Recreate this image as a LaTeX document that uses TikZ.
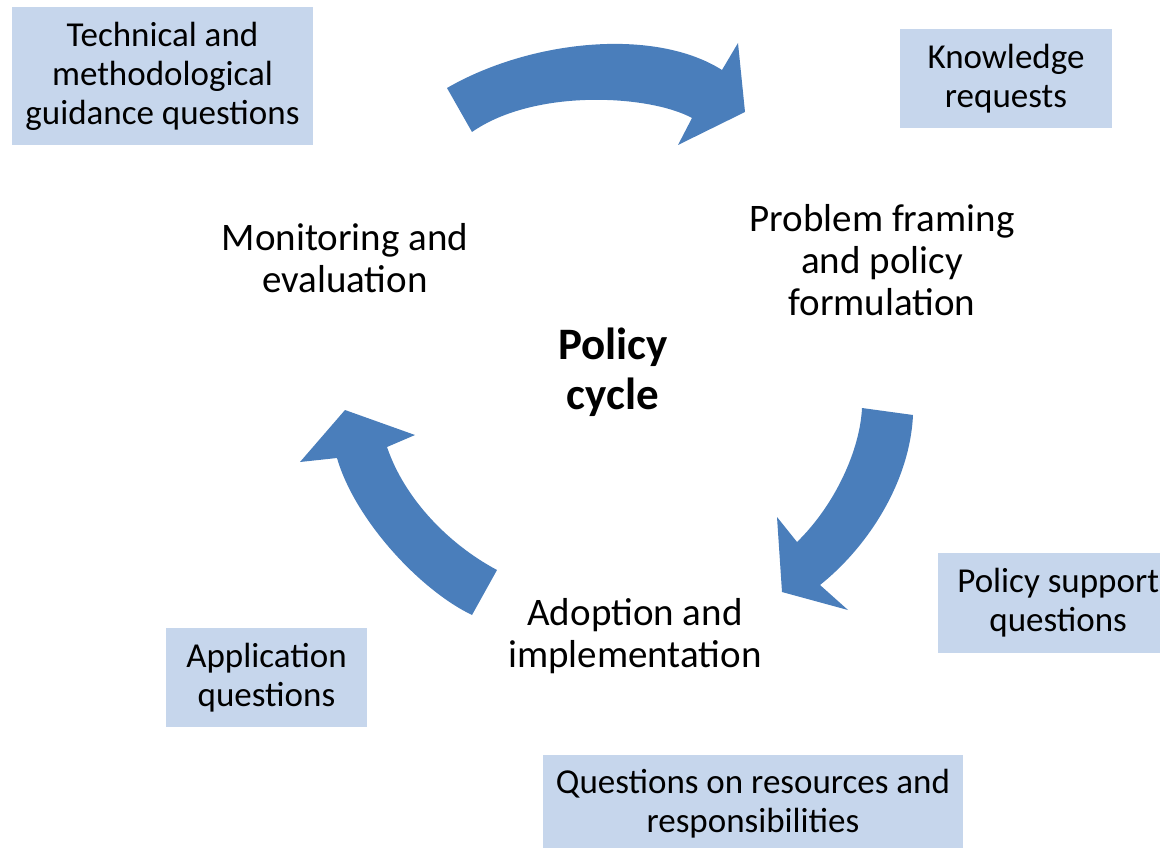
\documentclass[tikz,border=0pt]{standalone}
\usepackage{fontspec}
\setmainfont{Carlito}
\definecolor{boxblue}{HTML}{C6D6EC}
\definecolor{arrowblue}{HTML}{4A7EBB}
\begin{document}
\begin{tikzpicture}[
	x=1pt,y=-1pt,
	box/.style={fill=boxblue,inner sep=0pt,align=center,font=\fontsize{35}{39}\selectfont},
	stage/.style={align=center,font=\fontsize{39}{42}\selectfont},
	bigarrow/.style={fill=arrowblue}
]
\useasboundingbox (0,0) rectangle (1160,848);
	% the three cycle arrows
	\fill[bigarrow] (447,88) .. controls (530,40) and (654,27) .. (722,70) -- (738,43) -- (745,112) -- (678,145) -- (692,118) .. controls (650,95) and (535,88) .. (472,132) -- cycle;
	\fill[bigarrow] (862,408) -- (913,415) .. controls (910,480) and (870,545) .. (820,585) -- (848,610) -- (782,592) -- (777,517) -- (797,542) .. controls (835,505) and (860,450) .. (862,408) -- cycle;
	\fill[bigarrow] (497,570) -- (472,615) .. controls (420,590) and (355,520) .. (337,458) -- (300,462) -- (345,410) -- (415,435) -- (387,447) .. controls (405,500) and (450,545) .. (497,570) -- cycle;

	\node[stage] (monitor) at (345,258) {Monitoring and\\evaluation};
	\node[stage] (problem) at (882,260) {Problem framing\\and policy\\formulation};
	\node[stage] (adopt) at (635,636) {Adoption and\\implementation};
	\node[align=center,font=\fontsize{45}{50}\selectfont\bfseries] (cycle) at (613,372) {Policy\\cycle};

	\node[box,minimum width=301pt,minimum height=138pt] (technical) at (162.5,76) {Technical and\\methodological\\guidance questions};
	\node[box,minimum width=212pt,minimum height=99pt] (knowledge) at (1006,78.5) {Knowledge\\requests};
	\node[box,minimum width=240pt,minimum height=100pt,anchor=west] (support) at (938,603) {Policy support\\questions};
	\node[box,minimum width=201pt,minimum height=99pt] (application) at (266.5,677.5) {Application\\questions};
	\node[box,minimum width=420pt,minimum height=98pt] (resources) at (753,804) {Questions on resources and\\responsibilities};
\end{tikzpicture}
\end{document}
